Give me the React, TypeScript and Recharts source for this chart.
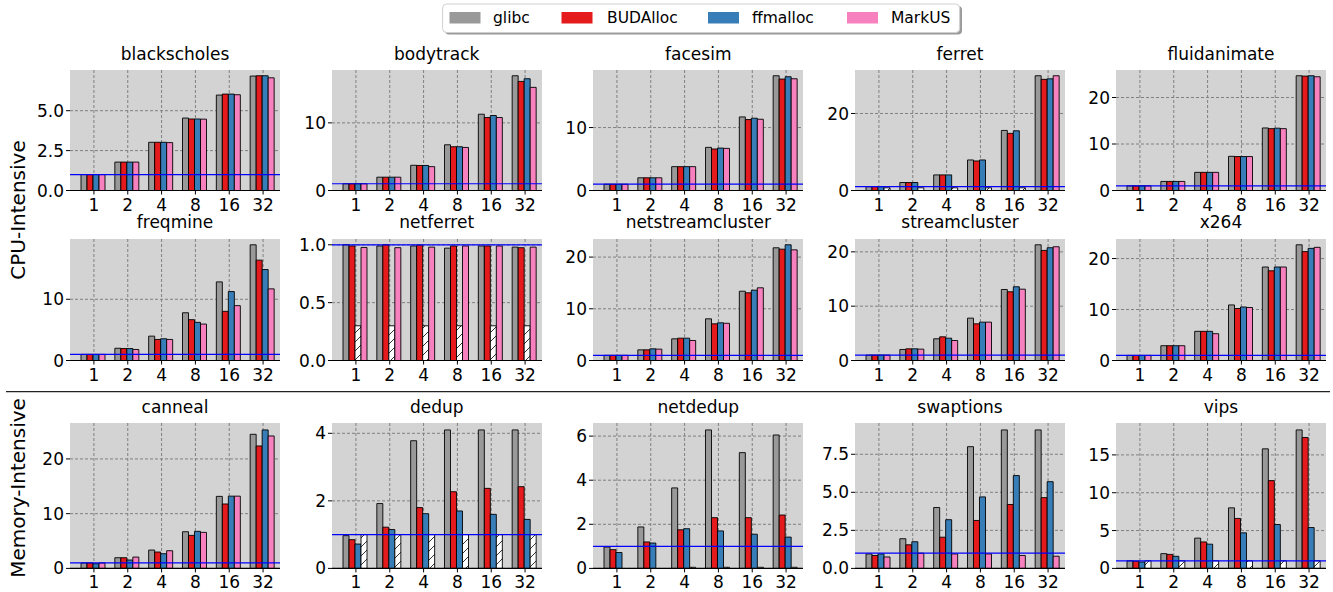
import React from "react";
import { BarChart, Bar, XAxis, YAxis, CartesianGrid, ReferenceLine, Cell } from "recharts";

const FONT = "DejaVu Sans, Verdana, sans-serif";

const threads = ["1", "2", "4", "8", "16", "32"];

const allocators = [
  { key: "glibc", name: "glibc", color: "#999999" },
  { key: "budalloc", name: "BUDAlloc", color: "#e41a1c" },
  { key: "ffmalloc", name: "ffmalloc", color: "#377eb8" },
  { key: "markus", name: "MarkUS", color: "#f781bf" },
];

// speedup vs. threads
const blackscholes = {
  glibc: [1.0, 1.78, 3.02, 4.54, 5.98, 7.17],
  budalloc: [1.0, 1.78, 3.02, 4.48, 6.04, 7.19],
  ffmalloc: [1.0, 1.78, 3.02, 4.48, 6.04, 7.19],
  markus: [1.0, 1.78, 3.0, 4.47, 6.0, 7.06],
};
const bodytrack = {
  glibc: [1.0, 1.97, 3.73, 6.76, 11.28, 16.97],
  budalloc: [1.0, 1.97, 3.7, 6.47, 10.79, 16.13],
  ffmalloc: [1.0, 1.97, 3.7, 6.47, 11.09, 16.53],
  markus: [1.0, 1.97, 3.53, 6.37, 10.79, 15.25],
};
const facesim = {
  glibc: [1.0, 2.02, 3.79, 6.85, 11.69, 18.23],
  budalloc: [1.0, 2.02, 3.79, 6.59, 11.27, 17.7],
  ffmalloc: [1.0, 2.02, 3.79, 6.74, 11.48, 18.07],
  markus: [1.0, 2.02, 3.79, 6.69, 11.32, 17.75],
};
const ferret = {
  glibc: [1.0, 2.07, 4.05, 7.93, 15.6, 29.8],
  budalloc: [1.0, 2.07, 4.05, 7.67, 14.83, 28.86],
  ffmalloc: [1.0, 2.07, 4.05, 7.93, 15.5, 29.0],
  markus: [0.7, 0.7, 0.7, 0.7, 0.7, 29.8],
};
const fluidanimate = {
  glibc: [1.0, 1.95, 3.9, 7.35, 13.45, 24.68],
  budalloc: [1.0, 1.95, 3.9, 7.3, 13.3, 24.6],
  ffmalloc: [1.0, 1.95, 3.9, 7.3, 13.4, 24.68],
  markus: [1.0, 1.95, 3.9, 7.3, 13.3, 24.46],
};
const freqmine = {
  glibc: [1.0, 2.0, 3.98, 7.8, 12.84, 18.9],
  budalloc: [1.0, 1.95, 3.44, 6.67, 8.03, 16.39],
  ffmalloc: [1.0, 1.95, 3.55, 6.23, 11.26, 14.86],
  markus: [1.0, 1.8, 3.44, 5.95, 8.96, 11.7],
};
const netferret = {
  glibc: [1.0, 0.99, 0.99, 0.971, 0.99, 0.98],
  budalloc: [0.99, 1.0, 0.997, 0.99, 0.99, 0.975],
  ffmalloc: [0.3, 0.3, 0.3, 0.3, 0.3, 0.3],
  markus: [0.977, 0.975, 0.98, 0.99, 0.99, 0.98],
};
const netstreamcluster = {
  glibc: [1.0, 2.06, 4.19, 8.06, 13.4, 21.8],
  budalloc: [1.0, 2.06, 4.32, 7.09, 13.09, 21.53],
  ffmalloc: [1.0, 2.26, 4.32, 7.29, 13.6, 22.38],
  markus: [1.0, 2.2, 3.87, 7.2, 14.06, 21.4],
};
const streamcluster = {
  glibc: [1.0, 2.03, 4.0, 7.8, 13.07, 21.3],
  budalloc: [1.0, 2.15, 4.36, 6.75, 12.65, 20.26],
  ffmalloc: [1.0, 2.15, 4.11, 7.06, 13.57, 20.76],
  markus: [1.0, 2.09, 3.68, 7.06, 13.13, 20.94],
};
const x264 = {
  glibc: [1.0, 2.9, 5.72, 10.9, 18.34, 22.7],
  budalloc: [1.0, 2.9, 5.72, 10.2, 17.6, 21.36],
  ffmalloc: [1.0, 2.9, 5.72, 10.5, 18.34, 22.0],
  markus: [1.0, 2.9, 5.26, 10.4, 18.34, 22.2],
};
const canneal = {
  glibc: [1.0, 1.95, 3.35, 6.7, 13.16, 24.5],
  budalloc: [1.0, 1.95, 2.99, 6.03, 11.77, 22.37],
  ffmalloc: [0.85, 1.53, 2.68, 6.77, 13.2, 25.3],
  markus: [1.0, 2.07, 3.23, 6.58, 13.2, 24.2],
};
const dedup = {
  glibc: [0.97, 1.92, 3.78, 4.1, 4.1, 4.1],
  budalloc: [0.85, 1.22, 1.8, 2.27, 2.37, 2.42],
  ffmalloc: [0.72, 1.15, 1.62, 1.7, 1.6, 1.45],
  markus: [1.0, 1.0, 1.0, 1.0, 1.0, 1.0],
};
const netdedup = {
  glibc: [0.97, 1.88, 3.65, 6.28, 5.25, 6.05],
  budalloc: [0.85, 1.2, 1.75, 2.3, 2.3, 2.42],
  ffmalloc: [0.72, 1.15, 1.8, 1.7, 1.55, 1.42],
  markus: [0, 0, 0.05, 0.05, 0.05, 0.05],
};
const swaptions = {
  glibc: [0.95, 1.95, 4.0, 8.0, 9.1, 9.1],
  budalloc: [0.85, 1.55, 2.05, 3.15, 4.2, 4.65],
  ffmalloc: [0.95, 1.75, 3.2, 4.7, 6.1, 5.7],
  markus: [0.75, 1.0, 0.95, 0.95, 0.85, 0.8],
};
const vips = {
  glibc: [1.0, 1.95, 4.0, 8.0, 15.8, 18.3],
  budalloc: [0.95, 1.85, 3.5, 6.6, 11.6, 17.3],
  ffmalloc: [0.85, 1.6, 3.2, 4.7, 5.8, 5.4],
  markus: [1.0, 1.0, 1.0, 1.0, 1.0, 1.0],
};

// runs that failed are drawn as hatched white bars
const all6 = [0, 1, 2, 3, 4, 5];

const panels = [
  { title: "blackscholes", data: blackscholes, ticks: [0, 2.5, 5], dec: 1 },
  { title: "bodytrack", data: bodytrack, ticks: [0, 10] },
  { title: "facesim", data: facesim, ticks: [0, 10] },
  { title: "ferret", data: ferret, ticks: [0, 20], failed: { markus: [0, 1, 2, 3, 4] } },
  { title: "fluidanimate", data: fluidanimate, ticks: [0, 10, 20] },
  { title: "freqmine", data: freqmine, ticks: [0, 10] },
  { title: "netferret", data: netferret, ticks: [0, 0.5, 1], dec: 1, failed: { ffmalloc: all6 } },
  { title: "netstreamcluster", data: netstreamcluster, ticks: [0, 10, 20] },
  { title: "streamcluster", data: streamcluster, ticks: [0, 10, 20] },
  { title: "x264", data: x264, ticks: [0, 10, 20] },
  { title: "canneal", data: canneal, ticks: [0, 10, 20] },
  { title: "dedup", data: dedup, ticks: [0, 2, 4], failed: { markus: all6 } },
  { title: "netdedup", data: netdedup, ticks: [0, 2, 4, 6], failed: { markus: all6 } },
  { title: "swaptions", data: swaptions, ticks: [0, 2.5, 5, 7.5], dec: 1 },
  { title: "vips", data: vips, ticks: [0, 5, 10, 15], failed: { markus: all6 } },
];

const colLeft = [70, 331.7, 593.3, 855, 1116];
const rowBox = [
  { top: 70, h: 120.5, titleY: 60 },
  { top: 238.5, h: 121.5, titleY: 228.3 },
  { top: 423.3, h: 145.4, titleY: 413.3 },
];
const PLOT_W = 210;
const Y_W = 50;
const X_H = 30;
const MT = 4;
const MR = 6;

const tickStyle = { fill: "#000", fontSize: 17, fontFamily: FONT };

function Panel({ p, idx }: { p: any; idx: number }) {
  const row = rowBox[Math.floor(idx / 5)];
  const left = colLeft[idx % 5];
  const rows = threads.map((t, i) => ({
    t,
    glibc: p.data.glibc[i],
    budalloc: p.data.budalloc[i],
    ffmalloc: p.data.ffmalloc[i],
    markus: p.data.markus[i],
  }));
  const ymax =
    1.05 * Math.max(...allocators.flatMap((a) => p.data[a.key] as number[]));
  const hatchId = `hatch-${idx}`;
  return (
    <div style={{ position: "absolute", left: left - Y_W, top: row.top - MT }}>
      <BarChart
        width={Y_W + PLOT_W + MR}
        height={MT + row.h + X_H}
        data={rows}
        margin={{ top: MT, right: MR, bottom: 0, left: 0 }}
        barCategoryGap={4}
        barGap={0}
      >
        <defs>
          <pattern id={hatchId} patternUnits="userSpaceOnUse" width={9} height={9}>
            <rect width={9} height={9} fill="#fff" />
            <path d="M0,9 L9,0 M-2.25,2.25 L2.25,-2.25 M6.75,11.25 L11.25,6.75" stroke="#000" strokeWidth={0.8} />
          </pattern>
        </defs>
        <CartesianGrid
          syncWithTicks
          fill="#d3d3d3"
          fillOpacity={1}
          stroke="#808080"
          strokeDasharray="3 2"
        />
        <XAxis
          dataKey="t"
          interval={0}
          height={X_H}
          padding={{ left: 7, right: 0 }}
          tick={tickStyle}
          tickSize={4}
          tickMargin={4}
          axisLine={{ stroke: "#000", strokeWidth: 1.2 }}
          tickLine={{ stroke: "#000" }}
        />
        <YAxis
          width={Y_W}
          type="number"
          domain={[0, ymax]}
          allowDataOverflow
          ticks={p.ticks}
          tickFormatter={(v: number) => (p.dec ? v.toFixed(p.dec) : String(v))}
          tick={tickStyle}
          tickSize={4}
          tickMargin={2}
          axisLine={false}
          tickLine={{ stroke: "#000" }}
        />
        {allocators.map((a) => (
          <Bar
            key={a.key}
            dataKey={a.key}
            name={a.name}
            fill={a.color}
            stroke="#000"
            strokeWidth={0.9}
            isAnimationActive={false}
          >
            {rows.map((_, i) => {
              const failed = p.failed && p.failed[a.key] && p.failed[a.key].includes(i);
              return <Cell key={i} fill={failed ? `url(#${hatchId})` : a.color} />;
            })}
          </Bar>
        ))}
        <ReferenceLine y={1} stroke="#0000ff" strokeWidth={1.2} ifOverflow="extendDomain" />
      </BarChart>
    </div>
  );
}

const legendItems = [
  { patchX: 449.5, textX: 493 },
  { patchX: 561.5, textX: 607 },
  { patchX: 708, textX: 752 },
  { patchX: 847, textX: 891 },
];

export default function App() {
  return (
    <div
      style={{
        position: "absolute",
        left: 0,
        top: 0,
        width: 1333,
        height: 592,
        background: "#fff",
        fontFamily: FONT,
      }}
    >
      {panels.map((p, i) => (
        <Panel key={p.title} p={p} idx={i} />
      ))}
      <svg
        width={1333}
        height={592}
        style={{ position: "absolute", left: 0, top: 0, pointerEvents: "none" }}
        fontFamily={FONT}
      >
        {/* legend */}
        <rect x={445} y={6} width={517} height={28.5} rx={4} fill="#9a9a9a" />
        <rect x={442.6} y={4} width={517} height={28.5} rx={4} fill="#fff" stroke="#d0d0d0" strokeWidth={1} />
        {allocators.map((a, i) => (
          <g key={a.key}>
            <rect x={legendItems[i].patchX} y={12} width={31} height={11.5} fill={a.color} />
            <text x={legendItems[i].textX} y={23.3} fontSize={15.5} fill="#000">
              {a.name}
            </text>
          </g>
        ))}
        {/* subplot titles */}
        {panels.map((p, i) => (
          <text
            key={p.title}
            x={colLeft[i % 5] + PLOT_W / 2}
            y={rowBox[Math.floor(i / 5)].titleY}
            fontSize={17}
            textAnchor="middle"
            fill="#000"
          >
            {p.title}
          </text>
        ))}
        {/* row group labels */}
        <text transform="translate(25,210) rotate(-90)" fontSize={20} textAnchor="middle" fill="#000">
          CPU-Intensive
        </text>
        <text transform="translate(25,488) rotate(-90)" fontSize={20} textAnchor="middle" fill="#000">
          Memory-Intensive
        </text>
        <line x1={6} x2={1330} y1={391.7} y2={391.7} stroke="#222" strokeWidth={1.3} />
      </svg>
    </div>
  );
}
